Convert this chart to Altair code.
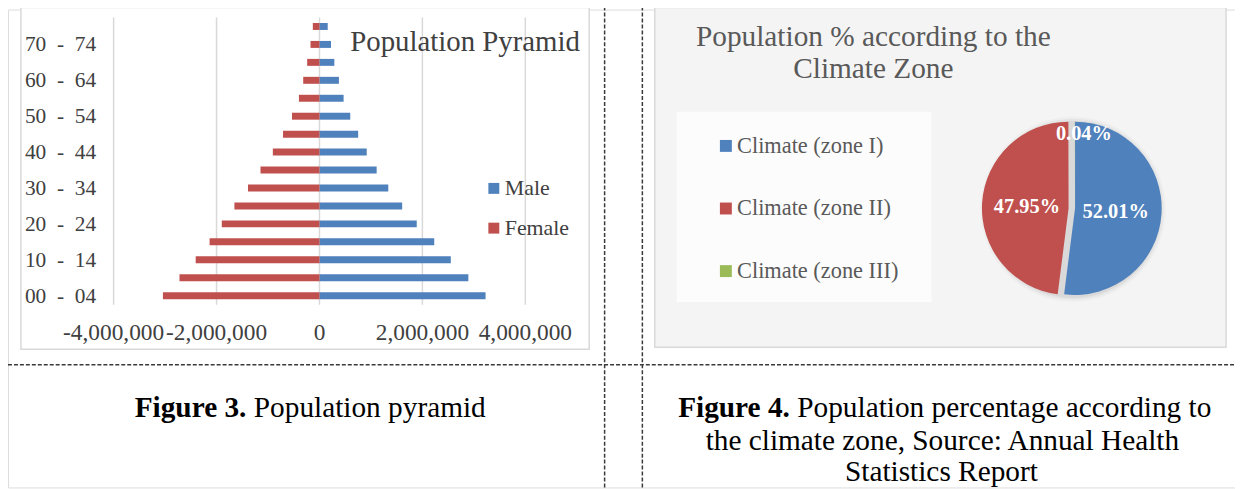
import altair as alt
import pandas as pd

# ---------------- data ----------------
ages = ["00 - 04", "05 - 09", "10 - 14", "15 - 19", "20 - 24", "25 - 29", "30 - 34", "35 - 39",
        "40 - 44", "45 - 49", "50 - 54", "55 - 59", "60 - 64", "65 - 69", "70 - 74", "75 - 79"]
male = [3227000, 2893000, 2552000, 2230000, 1890000, 1607000, 1337000, 1111000,
        918000, 752000, 598000, 469000, 378000, 289000, 224000, 160000]
female = [3042000, 2720000, 2405000, 2135000, 1898000, 1653000, 1389000, 1146000,
          906000, 708000, 534000, 399000, 316000, 239000, 174000, 129000]
sexes = ["Male", "Female"]

x_ticks = [-4000000, -2000000, 0, 2000000, 4000000]
x_tick_labels = ["-4,000,000", "-2,000,000", "0", "2,000,000", "4,000,000"]
age_ticks = ages[::2]
NB = "\u00a0"
age_tick_labels = [a.replace(" ", NB + NB) for a in age_ticks]

zones = ["Climate (zone I)", "Climate (zone II)", "Climate (zone III)"]
zone_pct = [52.01, 47.95, 0.04]
zone_labels = ["52.01%", "47.95%", "0.04%"]

pyramid_title = "Population Pyramid"
pie_title = ["Population % according to the", "Climate Zone"]
cap3 = ["Figure 3.", "Population pyramid"]
cap4 = ["Figure 4.", "Population percentage according to",
        "the climate zone, Source: Annual Health", "Statistics Report"]

# ---------------- style ----------------
SERIF = "Liberation Serif"
BLUE, RED, GREEN = "#4F81BD", "#C0504D", "#9BBB59"
GRID = "#D9D9D9"
DARK = "#404040"
GRAY = "#595959"
W, H = 1235, 481

one = alt.Data(values=[{}])


def txt(t, x, y, size, weight="normal", align="center", color="#000000", baseline="alphabetic"):
    return alt.Chart(one).mark_text(text=t, font=SERIF, fontSize=size, fontWeight=weight,
                                    align=align, baseline=baseline, color=color
                                    ).encode(x=alt.value(x), y=alt.value(y))


def box(x1, y1, x2, y2, fill, stroke=GRID):
    return alt.Chart(one).mark_rect(fill=fill, stroke=stroke, strokeWidth=1.5
                                    ).encode(x=alt.value(x1), x2=alt.value(x2), y=alt.value(y1), y2=alt.value(y2))


def dash_v(x):
    return alt.Chart(one).mark_rule(color="#3A3A3A", strokeDash=[4, 2], strokeWidth=1.5
                                    ).encode(x=alt.value(x), y=alt.value(-3), y2=alt.value(H))


def dash_h(y):
    return alt.Chart(one).mark_rule(color="#3A3A3A", strokeDash=[4, 2], strokeWidth=1.5
                                    ).encode(x=alt.value(0), x2=alt.value(W), y=alt.value(y))


# ---------------- pyramid ----------------
pyr_df = pd.DataFrame({
    "age": ages * 2,
    "sex": ["Male"] * len(ages) + ["Female"] * len(ages),
    "value": male + [-f for f in female],
})
xscale = alt.Scale(domain=[x_ticks[0], x_ticks[-1]], range=[106.3, 520.7], nice=False, zero=False)
yscale = alt.Scale(type="band", domain=ages[::-1], range=[8, 297], paddingInner=0, paddingOuter=0)

grid = alt.Chart(pd.DataFrame({"v": x_ticks})).mark_rule(color=GRID, strokeWidth=1.5).encode(
    x=alt.X("v:Q", scale=xscale, axis=None), y=alt.value(8), y2=alt.value(297))

bars = alt.Chart(pyr_df).mark_bar(size=7).encode(
    x=alt.X("value:Q", scale=xscale, axis=None, stack=False),
    y=alt.Y("age:N", scale=yscale, axis=None),
    color=alt.Color("sex:N", scale=alt.Scale(domain=sexes, range=[BLUE, RED]),
                    legend=alt.Legend(orient="none", legendX=478, legendY=169, title=None,
                                      symbolType="square", symbolSize=121, symbolStrokeWidth=0,
                                      labelFont=SERIF, labelFontSize=22, labelColor=DARK,
                                      rowPadding=18, labelOffset=0, labelLimit=300, padding=0)),
)

xlab = alt.Chart(pd.DataFrame({"v": x_ticks, "t": x_tick_labels})).mark_text(
    font=SERIF, fontSize=23.5, color=DARK, baseline="middle", align="center").encode(
    x=alt.X("v:Q", scale=xscale, axis=None), y=alt.value(326), text="t:N")

ylab = alt.Chart(pd.DataFrame({"age": age_ticks, "t": age_tick_labels})).mark_text(
    font=SERIF, fontSize=21.5, color=DARK, baseline="middle", align="left", dy=1).encode(
    y=alt.Y("age:N", scale=yscale, axis=None), x=alt.value(17), text="t:N")

# ---------------- pie ----------------
pie_df = pd.DataFrame({"idx": [0, 1, 2], "zone": zones, "pct": zone_pct, "lab": zone_labels})
th = alt.Scale(domain=[0, 100])
zscale = alt.Scale(domain=zones, range=[BLUE, RED, GREEN])
pie_legend = alt.Legend(orient="none", legendX=711.3, legendY=126, title=None,
                        symbolType="square", symbolSize=144, symbolStrokeWidth=0,
                        labelFont=SERIF, labelFontSize=22.5, labelColor=GRAY,
                        rowPadding=40, labelOffset=0, labelLimit=400, padding=0)

pbase = (alt.Chart(pie_df)
         .transform_window(t1="sum(pct)", sort=[alt.SortField("idx")])
         .transform_calculate(t0="datum.t1 - datum.pct")
         .transform_calculate(tm="(datum.t0 + datum.t1) / 2"))

CX, CY, R = 1074, 200, 87.2
RX = CX - 6.5

shadows = [
    alt.Chart(one).mark_arc(theta=0, theta2=6.2832, outerRadius=R + d, color="#000000", opacity=o)
    .encode(x=alt.value(CX - 2), y=alt.value(CY + 1))
    for d, o in [(6, 0.025), (4, 0.035), (2, 0.05)]
]

arc_main = pbase.transform_filter(alt.datum.idx != 1).mark_arc(outerRadius=R).encode(
    theta=alt.Theta("t0:Q", scale=th), theta2="t1:Q",
    color=alt.Color("zone:N", scale=zscale, legend=pie_legend),
    x=alt.value(CX), y=alt.value(CY))
arc_red = pbase.transform_filter(alt.datum.idx == 1).mark_arc(outerRadius=R).encode(
    theta=alt.Theta("t0:Q", scale=th), theta2="t1:Q",
    color=alt.Color("zone:N", scale=zscale, legend=pie_legend),
    x=alt.value(RX), y=alt.value(CY))


def pie_text(i, cx, radius, dx=0, dy=0):
    return pbase.transform_filter(alt.datum.idx == i).mark_text(
        radius=radius, font=SERIF, fontSize=20.5, fontWeight="bold", color="#FFFFFF",
        baseline="middle", align="center", dx=dx, dy=dy).encode(
        theta=alt.Theta("tm:Q", scale=th), text="lab:N", x=alt.value(cx), y=alt.value(CY))


pie = alt.layer(*shadows, arc_main, arc_red,
                pie_text(0, CX, 41, dy=1), pie_text(1, RX, 42, dy=1), pie_text(2, CX, 75, dx=9))

# ---------------- assemble ----------------
chart = alt.layer(
    box(651, -2, 1226, 340, "#F4F4F4"),
    box(673.7, 103.7, 928.7, 293.7, "#FCFCFC", stroke="#FCFCFC"),
    box(13, -2, 585, 342, "#FFFFFF"),
    grid, bars, xlab, ylab,
    txt(pyramid_title, 460, 42, 29, color=DARK),
    pie,
    txt(pie_title[0], 871, 36.3, 29.5, color=GRAY),
    txt(pie_title[1], 871, 69.3, 29.5, color=GRAY),
    dash_v(600.5), dash_v(638.5), dash_h(357.5),
    txt(cap3[0], 240, 410, 29.5, weight="bold", align="right"),
    txt(cap3[1], 247.4, 410, 29.5, align="left"),
    txt(cap4[0], 787, 410, 29.5, weight="bold", align="right"),
    txt(cap4[1], 794.4, 410, 29.5, align="left"),
    txt(cap4[2], 940.5, 443, 29.5),
    txt(cap4[3], 939.5, 475, 29.5),
).resolve_scale(color="independent").properties(
    width=W, height=H, padding=0, autosize=alt.AutoSizeParams(type="none"),
).configure_view(strokeWidth=0).configure(font=SERIF)

chart.save("out.html", embed_options={"renderer": "svg", "actions": False})
